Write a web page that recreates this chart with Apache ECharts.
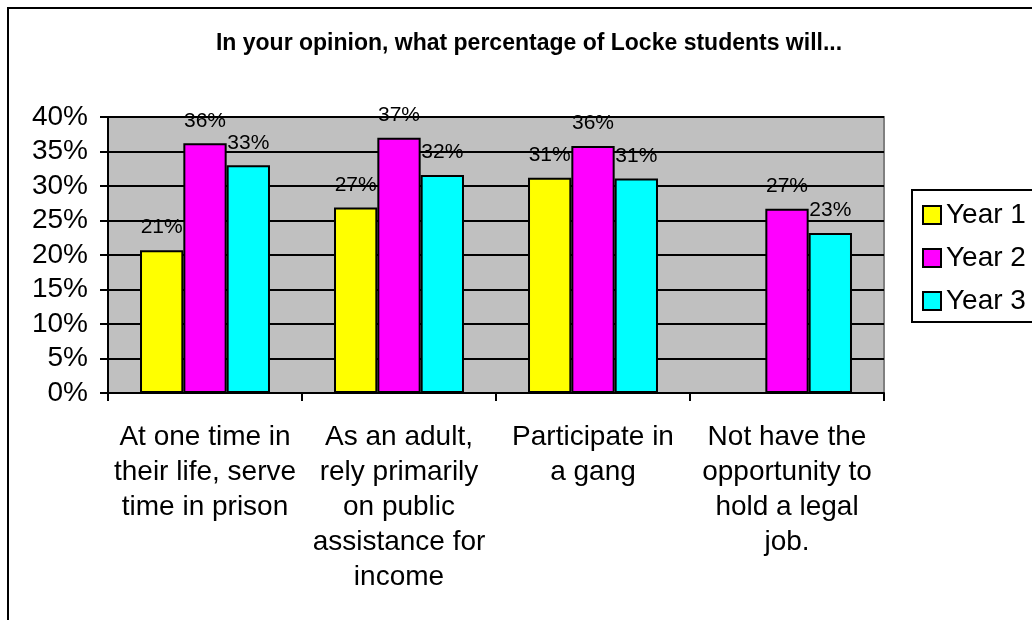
<!DOCTYPE html>
<html>
<head>
<meta charset="utf-8">
<style>
  html, body { margin: 0; padding: 0; background: #fff; }
  #chart { width: 1032px; height: 620px; }
</style>
<script src="https://cdn.jsdelivr.net/npm/echarts@6/dist/echarts.min.js"></script>
</head>
<body>
<div id="chart"></div>
<script>
// Survey categories (line breaks as shown under the axis)
const categories = [
  'At one time in\ntheir life, serve\ntime in prison',
  'As an adult,\nrely primarily\non public\nassistance for\nincome',
  'Participate in\na gang',
  'Not have the\nopportunity to\nhold a legal\njob.'
];

// Percent of respondents, per survey year
const year1 = [20.7, 26.9, 31.2, null];
const year2 = [36.2, 37.0, 35.8, 26.7];
const year3 = [33.0, 31.6, 31.1, 23.2];

const seriesNames = ['Year 1', 'Year 2', 'Year 3'];
const seriesColors = ['#FFFF00', '#FF00FF', '#00FFFF'];

// Y axis range
const yMin = 0, yMax = 40, yStep = 5;

const FONT = '"Liberation Sans", Arial, Helvetica, sans-serif';

const chart = echarts.init(document.getElementById('chart'), null, { renderer: 'canvas' });

function barSeries(name, data, color) {
  return {
    name: name,
    type: 'bar',
    data: data,
    barGap: '0%',
    barCategoryGap: '33%',
    itemStyle: { color: color, borderColor: '#000', borderWidth: 2 },
    label: {
      show: true,
      position: 'top',
      distance: 12,
      color: '#000',
      fontFamily: FONT,
      fontSize: 21,
      formatter: p => (p.value == null ? '' : Math.round(p.value) + '%')
    }
  };
}

const dataSets = [year1, year2, year3];

chart.setOption({
  animation: false,
  backgroundColor: '#fff',
  textStyle: { fontFamily: FONT },
  graphic: [{
    type: 'rect',
    z: -10,
    shape: { x: 8, y: 8, width: 1100, height: 700 },
    style: { fill: 'none', stroke: '#000', lineWidth: 2 }
  }],
  title: {
    text: 'In your opinion, what percentage of Locke students will...',
    left: 524,
    top: 27,
    textAlign: 'center',
    textStyle: { fontFamily: FONT, fontWeight: 'bold', fontSize: 23, color: '#000' }
  },
  legend: {
    orient: 'vertical',
    left: 912,
    top: 190,
    padding: [11, 120, 7, 10],
    itemGap: 15,
    itemWidth: 18,
    itemHeight: 18,
    icon: 'rect',
    borderColor: '#000',
    borderWidth: 2,
    backgroundColor: '#fff',
    itemStyle: { borderColor: '#000', borderWidth: 2 },
    textStyle: { fontFamily: FONT, fontSize: 28, color: '#000' },
    data: seriesNames
  },
  grid: {
    left: 108,
    right: 148,
    top: 117,
    bottom: 227,
    show: true,
    backgroundColor: '#C0C0C0',
    borderColor: '#808080',
    borderWidth: 2
  },
  xAxis: {
    type: 'category',
    data: categories,
    axisLine: { lineStyle: { color: '#000', width: 2 } },
    axisTick: { show: true, length: 8, lineStyle: { color: '#000', width: 2 } },
    axisLabel: {
      interval: 0,
      margin: 27,
      color: '#000',
      fontFamily: FONT,
      fontSize: 28,
      lineHeight: 35,
      align: 'center'
    }
  },
  yAxis: {
    type: 'value',
    min: yMin,
    max: yMax,
    interval: yStep,
    axisLine: { show: true, lineStyle: { color: '#000', width: 2 } },
    axisTick: { show: true, length: 8, lineStyle: { color: '#000', width: 2 } },
    splitLine: { show: true, lineStyle: { color: '#000', width: 2 } },
    axisLabel: {
      margin: 20,
      color: '#000',
      fontFamily: FONT,
      fontSize: 28,
      formatter: '{value}%'
    }
  },
  series: seriesNames.map((n, i) => barSeries(n, dataSets[i], seriesColors[i]))
});
</script>
</body>
</html>
